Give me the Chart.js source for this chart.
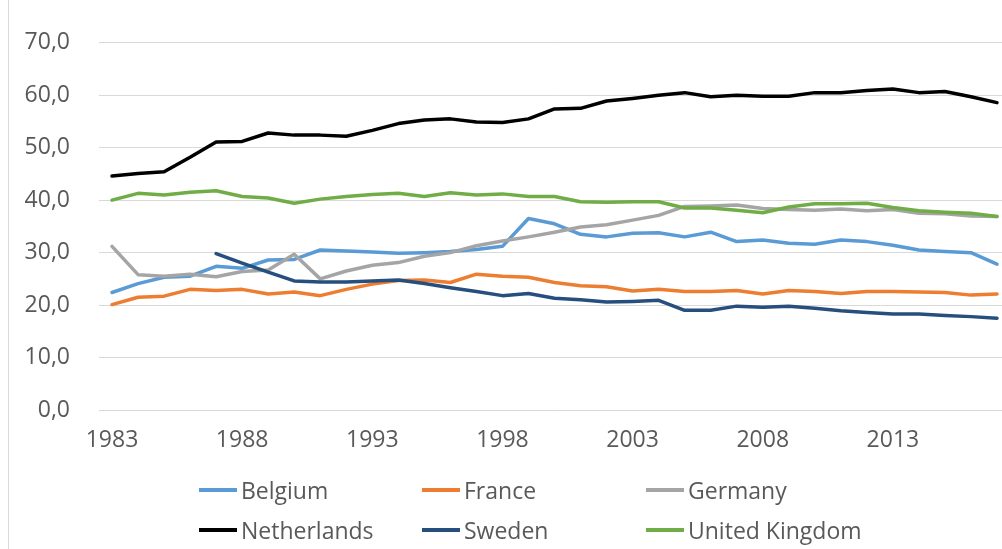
<!DOCTYPE html>
<html><head><meta charset="utf-8">
<script src="https://cdn.jsdelivr.net/npm/chart.js@4/dist/chart.umd.min.js"></script>
<style>
html,body{margin:0;padding:0;background:#fff;overflow:hidden;width:1002px;height:549px}
#wrap{position:relative;width:1002px;height:549px;overflow:hidden;background:#fff}
#c{position:absolute;left:0;top:0}
#border{position:absolute;left:8px;top:0;width:1px;height:549px;background:#d9d9d9}
.leg{position:absolute;height:30px;font-family:'Open Sans',sans-serif;font-size:23px;color:#595959;display:flex;align-items:center;white-space:nowrap}
.leg .sw{display:inline-block;width:38px;height:4px;margin-right:4px}
</style></head><body>
<div id="wrap"><canvas id="c" width="1014" height="549"></canvas><div id="border"></div><div id="legend"></div></div>
<script>
const years = ['1983','1984','1985','1986','1987','1988','1989','1990','1991','1992','1993','1994','1995','1996','1997','1998','1999','2000','2001','2002','2003','2004','2005','2006','2007','2008','2009','2010','2011','2012','2013','2014','2015','2016','2017'];
const xTickLabels = ['1983','1988','1993','1998','2003','2008','2013'];
const yTicks = [0,10,20,30,40,50,60,70];

const belgium = [22.4,24.1,25.3,25.5,27.4,27.0,28.6,28.7,30.5,30.3,30.1,29.9,30.0,30.2,30.6,31.2,36.5,35.5,33.5,33.0,33.7,33.8,33.0,33.9,32.1,32.4,31.8,31.6,32.4,32.1,31.4,30.5,30.2,30.0,27.8];
const france = [20.1,21.5,21.7,23.0,22.8,23.0,22.1,22.5,21.8,23.0,24.0,24.7,24.8,24.3,25.9,25.5,25.3,24.3,23.7,23.5,22.7,23.0,22.6,22.6,22.8,22.1,22.8,22.6,22.2,22.6,22.6,22.5,22.4,21.9,22.1];
const germany = [31.2,25.8,25.5,25.9,25.4,26.4,26.7,29.7,25.0,26.5,27.6,28.1,29.3,30.0,31.3,32.2,33.0,33.9,34.9,35.3,36.2,37.1,38.8,38.9,39.1,38.4,38.2,38.1,38.3,38.0,38.2,37.5,37.4,37.0,36.9];
const netherlands = [44.6,45.1,45.4,48.2,51.1,51.2,52.8,52.4,52.4,52.2,53.3,54.6,55.3,55.5,54.9,54.8,55.5,57.4,57.5,58.9,59.4,60.0,60.5,59.7,60.0,59.8,59.8,60.5,60.5,60.9,61.2,60.5,60.7,59.7,58.6];
const sweden = [null,null,null,null,29.8,28.0,26.3,24.6,24.4,24.4,24.6,24.8,24.1,23.3,22.6,21.8,22.2,21.3,21.0,20.6,20.7,20.9,19.0,19.0,19.8,19.6,19.8,19.4,18.9,18.6,18.3,18.3,18.0,17.8,17.5];
const unitedKingdom = [40.0,41.3,41.0,41.5,41.8,40.7,40.4,39.4,40.2,40.7,41.1,41.3,40.7,41.4,41.0,41.2,40.7,40.7,39.7,39.6,39.7,39.7,38.5,38.5,38.1,37.6,38.7,39.3,39.3,39.4,38.6,38.0,37.7,37.5,36.9];

const seriesNames = ['Belgium','France','Germany','Netherlands','Sweden','United Kingdom'];
const seriesData = [belgium,france,germany,netherlands,sweden,unitedKingdom];
const seriesColors = ['#5B9BD5','#ED7D31','#A5A5A5','#000000','#264F7D','#70AD47'];

const FONT = "'Open Sans', sans-serif";
const TXT = '#595959';

new Chart(document.getElementById('c'), {
  type: 'line',
  data: {
    labels: years,
    datasets: seriesNames.map((n,i)=>({
      label:n, data:seriesData[i], borderColor:seriesColors[i], backgroundColor:seriesColors[i],
      borderWidth:3.5, pointRadius:0, tension:0, fill:false, order:seriesNames.length-i,
      borderCapStyle:'round', borderJoinStyle:'round'
    }))
  },
  options: {
    responsive:false, animation:false,
    layout:{padding:{top:30,left:0,right:0,bottom:0}},
    plugins:{legend:{display:false},tooltip:{enabled:false}},
    scales:{
      x:{type:'category', offset:true,
        grid:{display:false,drawTicks:false}, border:{display:false},
        ticks:{autoSkip:false,maxRotation:0,minRotation:0,padding:17,color:TXT,font:{family:FONT,size:23},
          callback:function(v,idx){const l=years[idx];return xTickLabels.includes(l)?l:'';}},
        afterFit(s){s.height=139;}
      },
      y:{min:0,max:70,
        afterBuildTicks(s){s.ticks=yTicks.map(v=>({value:v}));},
        grid:{color:'#d9d9d9',lineWidth:1,drawTicks:false}, border:{display:false},
        ticks:{padding:29,color:TXT,font:{family:FONT,size:23},callback:v=>v.toFixed(1).replace('.',',')},
        afterFit(s){s.width=99;}
      }
    }
  }
});

const legendPos = [[199,475],[422,475],[646,475],[199,515],[422,515],[646,515]];
const lg = document.getElementById('legend');
seriesNames.forEach((n,i)=>{
  const d=document.createElement('div'); d.className='leg';
  d.style.left=legendPos[i][0]+'px'; d.style.top=legendPos[i][1]+'px';
  const sw=document.createElement('span'); sw.className='sw'; sw.style.background=seriesColors[i];
  d.appendChild(sw); d.appendChild(document.createTextNode(n)); lg.appendChild(d);
});
</script>
</body></html>
